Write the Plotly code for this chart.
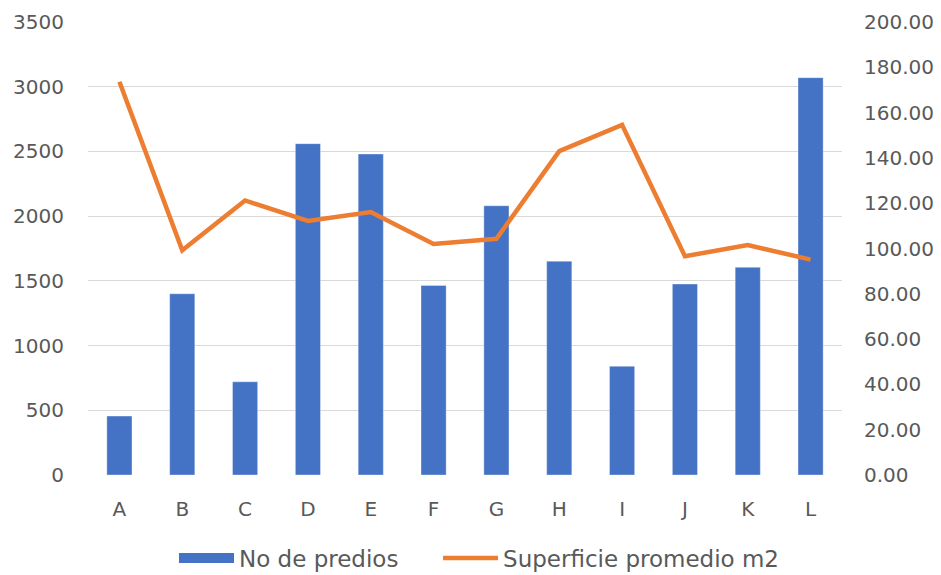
import plotly.graph_objects as go

categories = ["A", "B", "C", "D", "E", "F", "G", "H", "I", "J", "K", "L"]
no_predios = [455, 1400, 720, 2560, 2480, 1465, 2080, 1652, 840, 1475, 1605, 3070]
superficie_m2 = [173.6, 99.2, 121.2, 112.2, 116.1, 102.0, 104.3, 143.0, 154.6, 96.6, 101.5, 95.1]

left_ticks = [0, 500, 1000, 1500, 2000, 2500, 3000, 3500]
right_ticks = [0, 20, 40, 60, 80, 100, 120, 140, 160, 180, 200]

FONT = "DejaVu Sans"
GREY = "#595959"
BLUE = "#4472C4"
ORANGE = "#ED7D31"

fig = go.Figure()
fig.add_trace(go.Bar(
    x=categories, y=no_predios, name="No de predios",
    marker=dict(color=BLUE, line=dict(color="rgba(255,255,255,0.35)", width=1)),
    yaxis="y", showlegend=False,
))
# legend entry for the bars (wide swatch like the original)
fig.add_trace(go.Scatter(
    x=[None], y=[None], name="No de predios", mode="lines",
    line=dict(color=BLUE, width=13), yaxis="y", showlegend=True, legend="legend",
))
fig.add_trace(go.Scatter(
    x=categories, y=superficie_m2, name="Superficie promedio m2",
    mode="lines", line=dict(color=ORANGE, width=4.5),
    yaxis="y2", legend="legend2",
))

legend_common = dict(orientation="h", xanchor="left", yref="container", y=0.0435,
                     yanchor="middle", xref="container",
                     font=dict(size=23, color=GREY), itemwidth=55,
                     bgcolor="rgba(0,0,0,0)")

fig.update_layout(
    width=941, height=575,
    margin=dict(l=80, r=107, t=14, b=108, autoexpand=False),
    paper_bgcolor="white", plot_bgcolor="white",
    font=dict(family=FONT, color=GREY, size=20),
    bargap=0.6,
    showlegend=True,
    legend=dict(x=0.1764, **legend_common),
    legend2=dict(x=0.457, **legend_common),
    xaxis=dict(showgrid=False, showline=False, zeroline=False, ticks="", automargin=False,
               ticklabelstandoff=20, tickfont=dict(size=20, color=GREY)),
    yaxis=dict(range=[0, 3500], tickvals=left_ticks, showgrid=True, gridcolor="#D9D9D9",
               gridwidth=1.3, zeroline=False, showline=False, ticks="", automargin=False,
               ticklabelstandoff=23, tickfont=dict(size=20, color=GREY)),
    yaxis2=dict(range=[0, 200], tickvals=right_ticks, tickformat=".2f", overlaying="y",
                side="right", showgrid=False, zeroline=False, showline=False, ticks="",
                automargin=False, ticklabelstandoff=21, tickfont=dict(size=20, color=GREY)),
)

fig.write_html("out.html")
